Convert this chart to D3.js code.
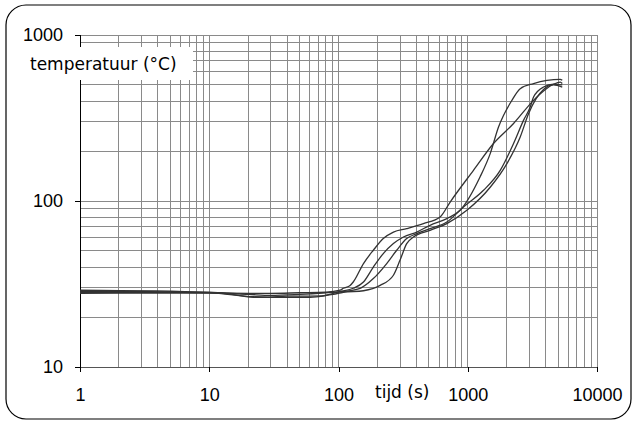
<!DOCTYPE html>
<html>
<head>
<meta charset="utf-8">
<script src="https://cdn.jsdelivr.net/npm/d3@7"></script>
<style>
  body { margin: 0; background: #fff; }
  text { font-family: "DejaVu Sans", Verdana, sans-serif; fill: #000; }
  .tick text { font-family: "Liberation Sans", Arial, sans-serif; }
</style>
</head>
<body>
<div id="wrapper"></div>
<script>
// meetwaarden: tijd (s) en temperatuur (°C) van vier metingen
const tijdA = [1, 3.5, 10, 20, 30, 50, 80, 103, 109, 123, 130, 156, 186, 222, 266, 337, 454, 611, 731, 1107, 1582, 2261, 3228, 3857, 4617, 5197, 5385];
const tempA = [28.6, 28.4, 28.0, 27.8, 27.8, 28.0, 28.2, 29.0, 29.8, 31.0, 32.5, 42.0, 50.5, 59.4, 65.0, 68.2, 73.1, 80.1, 98.6, 153, 222, 293, 404, 460, 505, 520, 510];

const tijdB = [1, 10, 22, 40, 60, 76, 91, 103, 130, 156, 186, 222, 266, 318, 403, 511, 689, 873, 1247, 1492, 1730, 2195, 2546, 3228, 4100, 5197, 5385];
const tempB = [28.2, 28.0, 26.5, 26.3, 26.3, 26.7, 27.8, 28.5, 29.8, 32.5, 40.0, 48.2, 55.4, 60.7, 65.0, 71.4, 78.3, 87.9, 140, 193, 279, 404, 475, 510, 533, 541, 533];

const tijdC = [1, 10, 20, 30, 50, 80, 109, 147, 186, 236, 282, 337, 403, 511, 689, 926, 1324, 1783, 2261, 2700, 3043, 3228, 3857, 4617, 5385];
const tempC = [27.8, 28.0, 27.4, 27.0, 27.4, 28.0, 28.5, 29.8, 34.1, 42.0, 50.5, 59.4, 63.6, 68.2, 74.7, 92.0, 116, 153, 222, 306, 368, 423, 486, 505, 500];

const tijdD = [1, 10, 15, 22, 28, 40, 60, 91, 109, 156, 210, 266, 299, 337, 380, 511, 689, 984, 1492, 2009, 2546, 2953, 3857, 4617, 5385];
const tempD = [29.0, 28.2, 27.4, 26.3, 26.3, 26.7, 26.7, 27.4, 28.2, 28.8, 31.0, 35.7, 43.9, 55.4, 60.7, 66.6, 73.1, 87.9, 121, 168, 243, 336, 470, 500, 485];

const xTicks = [1, 10, 100, 1000, 10000];
const yTicks = [10, 100, 1000];

const width = 634;
const height = 421;
const margin = { top: 35, right: 37, bottom: 54, left: 80 };

const svg = d3.select("#wrapper")
  .append("svg")
  .attr("width", width)
  .attr("height", height);

// rand om de hele figuur
svg.append("rect")
  .attr("x", 6).attr("y", 5)
  .attr("width", 625).attr("height", 414)
  .attr("rx", 20)
  .attr("fill", "none")
  .attr("stroke", "#000")
  .attr("stroke-width", 1.2);

const x = d3.scaleLog()
  .domain([1, 10000])
  .range([margin.left, width - margin.right]);

const y = d3.scaleLog()
  .domain([10, 1000])
  .range([height - margin.bottom, margin.top]);

// rasterlijnen (ook tussenwaarden)
const xGrid = [];
for (let d = 1; d < 10000; d *= 10) for (let k = 1; k <= 9; k++) xGrid.push(d * k);
xGrid.push(10000);
const yGrid = [];
for (let d = 10; d < 1000; d *= 10) for (let k = 1; k <= 9; k++) yGrid.push(d * k);
yGrid.push(1000);

const grid = svg.append("g").attr("stroke", "#8a8a8a").attr("shape-rendering", "crispEdges");
grid.selectAll(".vx")
  .data(xGrid)
  .join("line")
    .attr("x1", d => x(d)).attr("x2", d => x(d))
    .attr("y1", y(10)).attr("y2", y(1000));
grid.selectAll(".hy")
  .data(yGrid)
  .join("line")
    .attr("x1", x(1)).attr("x2", x(10000))
    .attr("y1", d => y(d)).attr("y2", d => y(d));

// x-as onderaan
const xAxis = g => g
  .attr("transform", `translate(0, ${y(10)})`)
  .call(d3.axisBottom(x).tickValues(xTicks).tickFormat(d3.format("d")).tickSizeOuter(0).tickSize(5).tickPadding(16))
  .call(g => g.select(".domain").attr("stroke", "#555"))
  .call(g => g.selectAll(".tick line").attr("stroke", "#000"))
  .attr("font-size", 18)
  .attr("font-family", null);

// y-as links
const yAxis = g => g
  .attr("transform", `translate(${x(1)}, 0)`)
  .call(d3.axisLeft(y).tickValues(yTicks).tickFormat(d3.format("d")).tickSizeOuter(0).tickSize(5).tickPadding(12))
  .call(g => g.select(".domain").attr("stroke", "#000"))
  .attr("font-size", 18)
  .attr("font-family", null);

svg.append("g").attr("shape-rendering", "crispEdges").call(xAxis);
svg.append("g").attr("shape-rendering", "crispEdges").call(yAxis);

// de vier temperatuurcurves
const series = [[tijdA, tempA], [tijdB, tempB], [tijdC, tempC], [tijdD, tempD]];
const line = d3.line()
  .x(d => x(d[0]))
  .y(d => y(d[1]))
  .curve(d3.curveMonotoneX);

svg.append("g")
  .selectAll("path")
  .data(series.map(s => s[0].map((t, i) => [t, s[1][i]])))
  .join("path")
    .attr("d", line)
    .attr("fill", "none")
    .attr("stroke", "#333")
    .attr("stroke-width", 1.3);

// aslabels
svg.append("rect")
  .attr("x", 27).attr("y", 47)
  .attr("width", 166).attr("height", 33)
  .attr("fill", "#fff");
svg.append("text")
  .attr("x", 30).attr("y", 70)
  .attr("font-size", 17)
  .text("temperatuur (°C)");

svg.append("text")
  .attr("x", 375).attr("y", 398)
  .attr("font-size", 17)
  .text("tijd (s)");
</script>
</body>
</html>
